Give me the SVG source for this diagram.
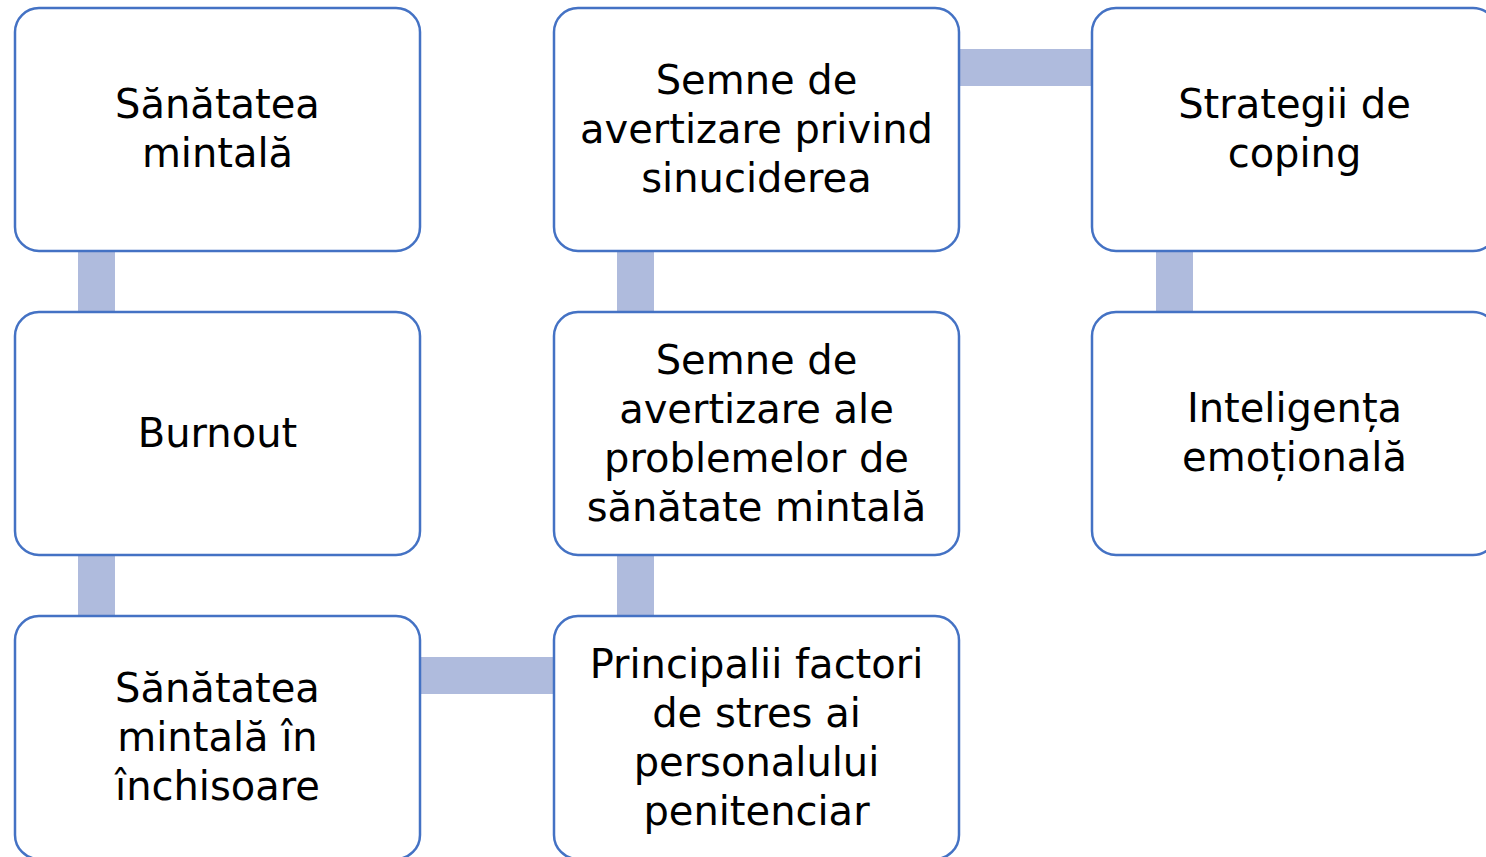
<svg xmlns="http://www.w3.org/2000/svg" width="1486" height="857" viewBox="0 0 1486 857">
<style>
.box{fill:#FFFFFF;stroke:#4472C4;stroke-width:2.5}
.con{fill:#AFBBDD}
.t{font-family:"DejaVu Sans","Liberation Sans",sans-serif;font-size:40px;fill:#000000;text-anchor:middle}
</style>
<rect width="1486" height="857" fill="#FFFFFF"/>
<g id="connectors">
<rect class="con" x="78" y="250" width="37" height="63"/>
<rect class="con" x="78" y="554" width="37" height="63"/>
<rect class="con" x="617" y="250" width="37" height="63"/>
<rect class="con" x="617" y="554" width="37" height="63"/>
<rect class="con" x="1156" y="250" width="37" height="63"/>
<rect class="con" x="958" y="49" width="135" height="37"/>
<rect class="con" x="419" y="657" width="136" height="37"/>
</g>
<g id="n1">
<rect class="box" x="15" y="8" width="405" height="243" rx="24"/>
<text class="t" x="217.5" y="118">Sănătatea</text>
<text class="t" x="217.5" y="167">mintală</text>
</g>
<g id="n2">
<rect class="box" x="15" y="312" width="405" height="243" rx="24"/>
<text class="t" x="217.5" y="447">Burnout</text>
</g>
<g id="n3">
<rect class="box" x="15" y="616" width="405" height="243" rx="24"/>
<text class="t" x="217.5" y="702">Sănătatea</text>
<text class="t" x="217.5" y="751">mintală în</text>
<text class="t" x="217.5" y="800">închisoare</text>
</g>
<g id="n4">
<rect class="box" x="554" y="616" width="405" height="243" rx="24"/>
<text class="t" x="756.5" y="678">Principalii factori</text>
<text class="t" x="756.5" y="727">de stres ai</text>
<text class="t" x="756.5" y="776">personalului</text>
<text class="t" x="756.5" y="825">penitenciar</text>
</g>
<g id="n5">
<rect class="box" x="554" y="312" width="405" height="243" rx="24"/>
<text class="t" x="756.5" y="374">Semne de</text>
<text class="t" x="756.5" y="423">avertizare ale</text>
<text class="t" x="756.5" y="472">problemelor de</text>
<text class="t" x="756.5" y="521">sănătate mintală</text>
</g>
<g id="n6">
<rect class="box" x="554" y="8" width="405" height="243" rx="24"/>
<text class="t" x="756.5" y="94">Semne de</text>
<text class="t" x="756.5" y="143">avertizare privind</text>
<text class="t" x="756.5" y="192">sinuciderea</text>
</g>
<g id="n7">
<rect class="box" x="1092" y="8" width="405" height="243" rx="24"/>
<text class="t" x="1294.5" y="118">Strategii de</text>
<text class="t" x="1294.5" y="167">coping</text>
</g>
<g id="n8">
<rect class="box" x="1092" y="312" width="405" height="243" rx="24"/>
<text class="t" x="1294.5" y="422">Inteligența</text>
<text class="t" x="1294.5" y="471">emoțională</text>
</g>
</svg>
